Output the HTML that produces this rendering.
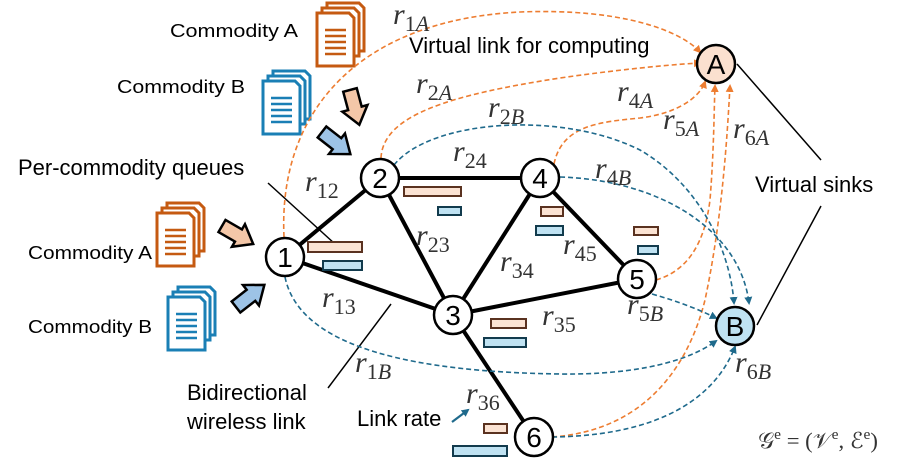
<!DOCTYPE html>
<html><head><meta charset="utf-8"><style>
html,body{margin:0;padding:0;background:#fff;}
svg{display:block;}
.t{font-family:"Liberation Sans",sans-serif;fill:#000;}
.m{font-family:"Liberation Serif",serif;font-style:italic;fill:#333;font-size:30px;}
.m tspan.s{font-style:normal;font-size:22px;}
</style></head><body>
<svg width="909" height="476" viewBox="0 0 909 476" xmlns="http://www.w3.org/2000/svg">
<defs>
<marker id="ao" markerWidth="8" markerHeight="8" refX="6" refY="4" orient="auto" markerUnits="userSpaceOnUse"><path d="M0,0 L8,4 L0,8 z" fill="#ed7d31"/></marker>
<marker id="ab" markerWidth="8" markerHeight="8" refX="6" refY="4" orient="auto" markerUnits="userSpaceOnUse"><path d="M0,0 L8,4 L0,8 z" fill="#1f6a8c"/></marker>
<g id="docA">
<path d="M10,0 H42 L47,5 V48 H10 Z" fill="#fff" stroke="#c55a11" stroke-width="3"/>
<path d="M5,5 H37 L42,10 V53 H5 Z" fill="#fff" stroke="#c55a11" stroke-width="3"/>
<path d="M0,10 H32 L37,15 V63 H0 Z" fill="#fff" stroke="#c55a11" stroke-width="3"/>
<path d="M8,27H29M8,33H29M8,39H29M8,45H29M8,51H29" stroke="#c55a11" stroke-width="2.5"/>
</g>
<g id="docB">
<path d="M10,0 H42 L47,5 V48 H10 Z" fill="#fff" stroke="#1a7fb5" stroke-width="3"/>
<path d="M5,5 H37 L42,10 V53 H5 Z" fill="#fff" stroke="#1a7fb5" stroke-width="3"/>
<path d="M0,10 H32 L37,15 V63 H0 Z" fill="#fff" stroke="#1a7fb5" stroke-width="3"/>
<path d="M8,27H29M8,33H29M8,39H29M8,45H29M8,51H29" stroke="#1a7fb5" stroke-width="2.5"/>
</g>
<polygon id="barr" points="0,-7 19,-7 19,-13 36,0 19,13 19,7 0,7" stroke="#000" stroke-width="2.5" stroke-linejoin="miter"/>
</defs>

<use href="#docA" x="317" y="3"/>
<use href="#docB" x="263" y="71"/>
<use href="#docA" x="157" y="203"/>
<use href="#docB" x="168" y="287"/>

<use href="#barr" transform="translate(350,90) rotate(75)" fill="#f4c7a8"/>
<use href="#barr" transform="translate(322,132) rotate(38)" fill="#9dc3e6"/>
<use href="#barr" transform="translate(222,226) rotate(30)" fill="#f4c7a8"/>
<use href="#barr" transform="translate(236,307) rotate(-38)" fill="#9dc3e6"/>

<line x1="268" y1="183" x2="335" y2="244" stroke="#000" stroke-width="1.5"/>
<line x1="328" y1="388" x2="391" y2="304" stroke="#000" stroke-width="1.5"/>
<line x1="737" y1="64" x2="821" y2="160" stroke="#000" stroke-width="1.5"/>
<line x1="821" y1="206" x2="757" y2="325" stroke="#000" stroke-width="1.5"/>

<g stroke="#000" stroke-width="4" fill="none">
<line x1="285" y1="257" x2="380" y2="178"/>
<line x1="285" y1="257" x2="453" y2="315"/>
<line x1="380" y1="178" x2="540" y2="178"/>
<line x1="380" y1="178" x2="453" y2="315"/>
<line x1="540" y1="178" x2="453" y2="315"/>
<line x1="540" y1="178" x2="637" y2="279"/>
<line x1="453" y1="315" x2="637" y2="279"/>
<line x1="453" y1="315" x2="534" y2="437"/>
</g>

<g fill="none" stroke-width="1.6" stroke-dasharray="5,3">
<path d="M284,237 C278,110 360,20 520,12 C620,8 680,30 700,52" stroke="#ed7d31" marker-end="url(#ao)"/>
<path d="M381,158 C383,115 450,95 560,78 C630,68 680,64 700,63" stroke="#ed7d31" marker-end="url(#ao)"/>
<path d="M554,164 C562,125 600,122 640,118 C680,113 700,96 705,82" stroke="#ed7d31" marker-end="url(#ao)"/>
<path d="M656,280 C690,270 705,240 710,200 C714,150 714,110 715,86" stroke="#ed7d31" marker-end="url(#ao)"/>
<path d="M552,437 C650,430 690,360 705,300 C722,220 727,140 730,86" stroke="#ed7d31" marker-end="url(#ao)"/>
<path d="M394,165 C430,120 560,110 640,150 C700,185 730,250 734,303" stroke="#1f6a8c" marker-end="url(#ab)"/>
<path d="M560,177 C660,180 740,230 749,303" stroke="#1f6a8c" marker-end="url(#ab)"/>
<path d="M652,294 C680,302 700,310 716,318" stroke="#1f6a8c" marker-end="url(#ab)"/>
<path d="M285,277 C300,350 420,372 560,374 C640,375 690,360 716,341" stroke="#1f6a8c" marker-end="url(#ab)"/>
<path d="M552,437 C640,436 710,410 735,347" stroke="#1f6a8c" marker-end="url(#ab)"/>
</g>

<g stroke-width="2">
<rect x="308" y="242" width="54" height="10" fill="#fbe3d3" stroke="#5a3220"/>
<rect x="323" y="261" width="39" height="9" fill="#bfe2f2" stroke="#123b4d"/>
<rect x="404" y="187" width="57" height="9" fill="#fbe3d3" stroke="#5a3220"/>
<rect x="438" y="207" width="23" height="8" fill="#bfe2f2" stroke="#123b4d"/>
<rect x="541" y="207" width="22" height="9" fill="#fbe3d3" stroke="#5a3220"/>
<rect x="536" y="226" width="27" height="9" fill="#bfe2f2" stroke="#123b4d"/>
<rect x="634" y="227" width="24" height="8" fill="#fbe3d3" stroke="#5a3220"/>
<rect x="638" y="246" width="20" height="8" fill="#bfe2f2" stroke="#123b4d"/>
<rect x="491" y="319" width="35" height="9" fill="#fbe3d3" stroke="#5a3220"/>
<rect x="484" y="338" width="42" height="9" fill="#bfe2f2" stroke="#123b4d"/>
<rect x="484" y="424" width="23" height="9" fill="#fbe3d3" stroke="#5a3220"/>
<rect x="453" y="446" width="54" height="10" fill="#bfe2f2" stroke="#123b4d"/>
</g>

<g stroke="#000" stroke-width="2.5">
<circle cx="285" cy="257" r="19" fill="#fff"/>
<circle cx="380" cy="178" r="19" fill="#fff"/>
<circle cx="453" cy="315" r="19" fill="#fff"/>
<circle cx="540" cy="178" r="19" fill="#fff"/>
<circle cx="637" cy="279" r="19" fill="#fff"/>
<circle cx="534" cy="437" r="19" fill="#fff"/>
<circle cx="716" cy="64" r="19" fill="#fbe0cf"/>
<circle cx="735" cy="326" r="19" fill="#bfe2f2"/>
</g>
<g class="t" font-size="28" text-anchor="middle">
<text x="285" y="267">1</text>
<text x="380" y="188">2</text>
<text x="453" y="325">3</text>
<text x="540" y="188">4</text>
<text x="637" y="289">5</text>
<text x="534" y="447">6</text>
<text x="716" y="74">A</text>
<text x="735" y="336">B</text>
</g>

<g class="t" font-size="18">
<text x="170" y="37" textLength="128" lengthAdjust="spacingAndGlyphs">Commodity A</text>
<text x="117" y="93" textLength="128" lengthAdjust="spacingAndGlyphs">Commodity B</text>
<text x="28" y="259" textLength="124" lengthAdjust="spacingAndGlyphs">Commodity A</text>
<text x="28" y="333" textLength="124" lengthAdjust="spacingAndGlyphs">Commodity B</text>
</g>
<g class="t" font-size="22">
<text x="18" y="175">Per-commodity queues</text>
<text x="409" y="53">Virtual link for computing</text>
<text x="187" y="400">Bidirectional</text>
<text x="187" y="429">wireless link</text>
<text x="357" y="426">Link rate</text>
<text x="755" y="192">Virtual sinks</text>
</g>
<line x1="452" y1="422" x2="468" y2="410" stroke="#1f6a8c" stroke-width="2.2" marker-end="url(#ab)"/>

<g class="m">
<text x="393" y="24">r<tspan class="s" dy="7">1<tspan font-style="italic">A</tspan></tspan></text>
<text x="416" y="93">r<tspan class="s" dy="7">2<tspan font-style="italic">A</tspan></tspan></text>
<text x="488" y="117">r<tspan class="s" dy="7">2<tspan font-style="italic">B</tspan></tspan></text>
<text x="617" y="101">r<tspan class="s" dy="7">4<tspan font-style="italic">A</tspan></tspan></text>
<text x="663" y="129">r<tspan class="s" dy="7">5<tspan font-style="italic">A</tspan></tspan></text>
<text x="733" y="138">r<tspan class="s" dy="7">6<tspan font-style="italic">A</tspan></tspan></text>
<text x="453" y="161">r<tspan class="s" dy="7">24</tspan></text>
<text x="595" y="178">r<tspan class="s" dy="7">4<tspan font-style="italic">B</tspan></tspan></text>
<text x="305" y="191">r<tspan class="s" dy="7">12</tspan></text>
<text x="416" y="245">r<tspan class="s" dy="7">23</tspan></text>
<text x="500" y="271">r<tspan class="s" dy="7">34</tspan></text>
<text x="563" y="254">r<tspan class="s" dy="7">45</tspan></text>
<text x="322" y="307">r<tspan class="s" dy="7">13</tspan></text>
<text x="542" y="325">r<tspan class="s" dy="7">35</tspan></text>
<text x="627" y="314">r<tspan class="s" dy="7">5<tspan font-style="italic">B</tspan></tspan></text>
<text x="355" y="372">r<tspan class="s" dy="7">1<tspan font-style="italic">B</tspan></tspan></text>
<text x="735" y="372">r<tspan class="s" dy="7">6<tspan font-style="italic">B</tspan></tspan></text>
<text x="466" y="403">r<tspan class="s" dy="7">36</tspan></text>
</g>
<text x="758" y="448" textLength="120" lengthAdjust="spacingAndGlyphs" style="font-family:'Liberation Serif',serif;fill:#333;font-size:22px">𝒢<tspan font-size="15" dy="-9">e</tspan><tspan dy="9"> = (</tspan>𝒱<tspan font-size="15" dy="-9">e</tspan><tspan dy="9">, </tspan>ℰ<tspan font-size="15" dy="-9">e</tspan><tspan dy="9">)</tspan></text>
</svg>
</body></html>
